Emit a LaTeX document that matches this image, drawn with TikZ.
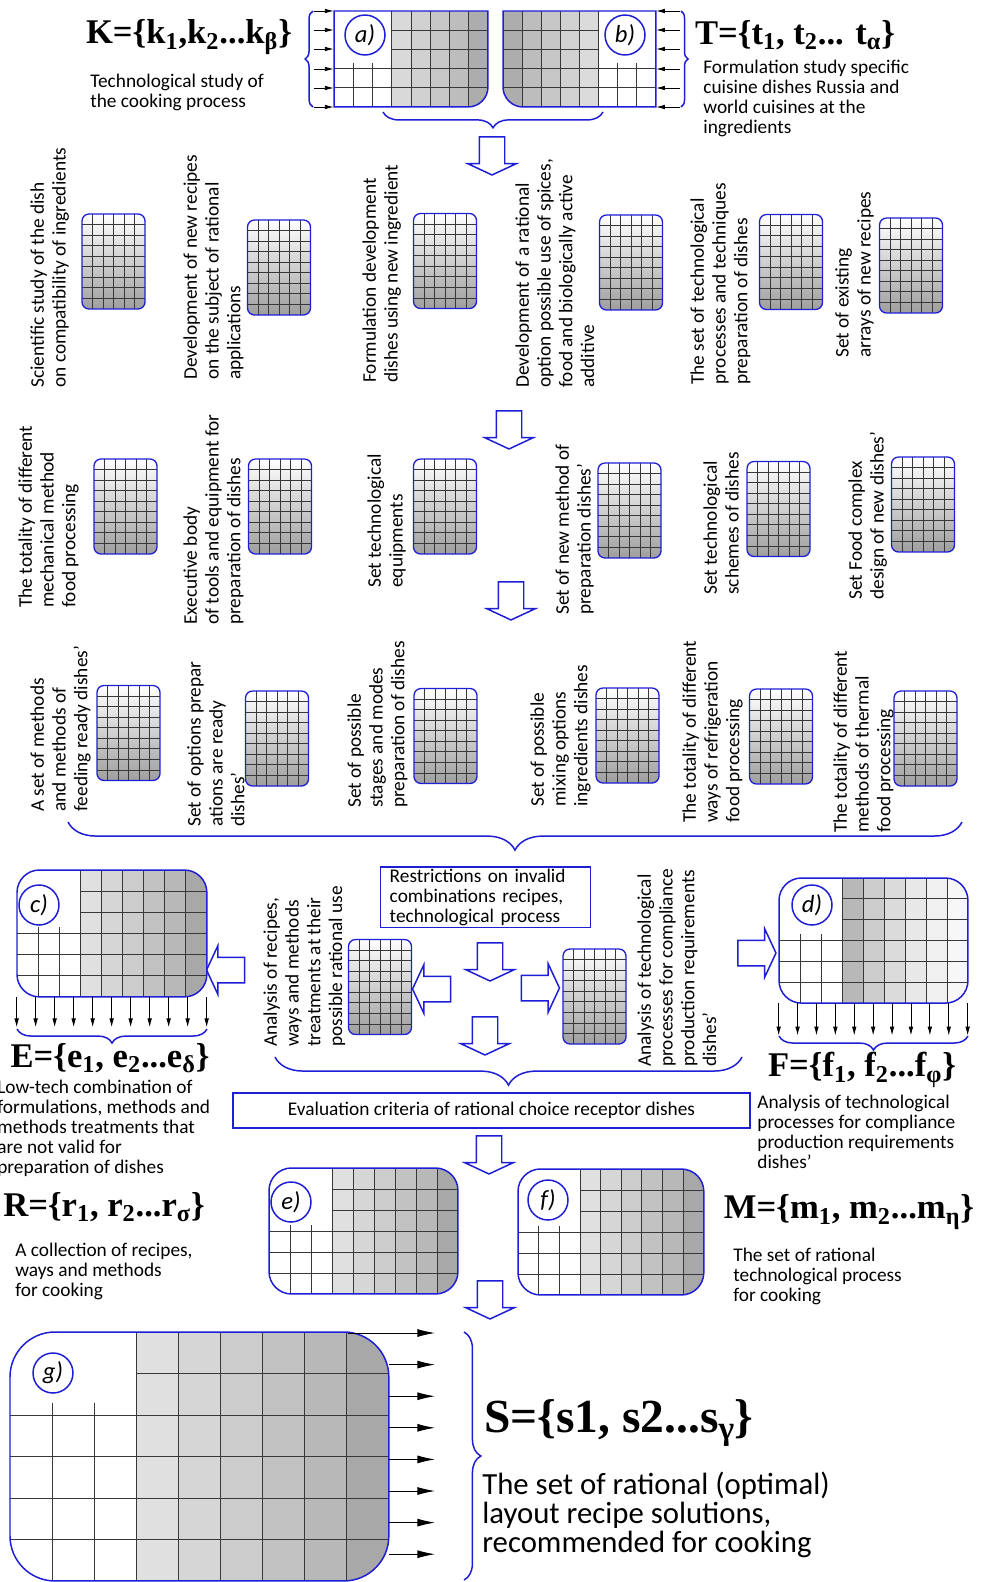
\documentclass[tikz,border=0pt]{standalone}
\usepackage{fontspec}
\setmainfont{Carlito}
\newfontfamily\setfont{Liberation Serif}
\usetikzlibrary{arrows.meta,shapes.arrows,decorations.pathreplacing,calc,fit}

\definecolor{lineblue}{RGB}{30,30,215}

\tikzset{
  frame/.style={draw=lineblue, line width=0.85pt},
  gridline/.style={draw=black!78, line width=0.45pt},
  body/.style={font=\fontsize{11}{11.3}\selectfont},
  txt/.style={inner sep=0, anchor=north west, align=left, body},
  vtxt/.style={inner sep=0, anchor=north west, align=left, rotate=90,
               font=\fontsize{11}{12.4}\selectfont},
  setname/.style={inner sep=0, font=\setfont\bfseries\fontsize{19.7}{22}\selectfont},
  lbl/.style={circle, frame, fill=white, minimum size=0.8cm, inner sep=0,
              font=\itshape\fontsize{14}{14}\selectfont},
  tile/.style={frame, line width=0.75pt, rounded corners=4pt, inner sep=0,
               minimum width=1.26cm, minimum height=1.9cm,
               top color=white, bottom color=black!38,
               path picture={
                 \foreach \i in {1,...,5}
                   \draw[gridline] ($(path picture bounding box.south west)!{\i/6}!(path picture bounding box.south east)$) -- ++(0,2cm);
                 \foreach \j in {1,...,8}
                   \draw[gridline] ($(path picture bounding box.south west)!{\j/9}!(path picture bounding box.north west)$) -- ++(2cm,0);
               }},
  blockarr/.style={single arrow, frame, fill=white, inner sep=0.24cm,
                   minimum height=0.76cm,
                   single arrow head extend=0.23cm, single arrow tip angle=130},
  brace/.style={frame, decorate, decoration={brace, amplitude=#1}},
  tick/.style={-{Latex[length=5pt, width=2.6pt]}, line width=0.45pt},
  outarr/.style={-{Latex[length=10pt, width=4.5pt]}, line width=0.5pt},
  txtbox/.style={frame, inner sep=0, body}
}

% grid panel: name, top-left, cols, rows, cell w, cell h, free rows, greys, outline
\newcommand\gridpanel[9]{%
  \begin{scope}[shift={#2}, x=#5, y=-#6]
    \begin{scope}
      \clip #9;
      \fill[white] (0,0) rectangle (#3,#4);
      \pgfmathtruncatemacro\jend{#4-1}
      \foreach \g [count=\i, remember=\g as \gp (initially 0)] in {#8}{
        \ifnum\g>0 \fill[black!\g] (\i-1,0) rectangle (\i,#4);\fi
        \pgfmathtruncatemacro\jstart{\g==0 ? #7+1 : 1}
        \foreach \j in {\jstart,...,\jend}
          \draw[gridline] (\i-1,\j) -- (\i,\j);
        \ifnum\i>1
          \pgfmathsetmacro\ystart{(\g==0 && \gp==0) ? #7+0.7 : 0}
          \draw[gridline] (\i-1,\ystart) -- (\i-1,#4);
        \fi
      }
    \end{scope}
    \draw[frame] #9;
    \node[fit={(0,0) (#3,#4)}, inner sep=0] (#1) {};
  \end{scope}}

\begin{document}
\begin{tikzpicture}[x=0.02cm, y=-0.02cm]
  \fill[white] (0,0) rectangle (981,1582);
  \useasboundingbox (0,0) rectangle (981,1582);

  % input matrices a) and b)
  \gridpanel{pa}{(334,11)}{8}{5}{0.385cm}{0.384cm}{2}{0,0,0,15,18,22,26,32}
    {(0,0) -- (8,0) -- ([yshift=0.4cm]8,5) arc[start angle=0, end angle=-90, radius=0.4cm] -- (0,5) -- cycle}
  \gridpanel{pb}{(503,11)}{8}{5}{0.382cm}{0.384cm}{2}{32,26,22,18,14,0,0,0}
    {(0,0) -- (8,0) -- (8,5) -- ([xshift=0.4cm]0,5) arc[start angle=-90, end angle=-180, radius=0.4cm] -- cycle}
  \node[lbl] (la) at (365,35) {a)};
  \node[lbl] (lb) at (625,35) {b)};
  \draw[brace=4.5pt] (313,107) -- (313,11);
  \draw[brace=4pt] (681,11) -- (681,107);
  \foreach \y in {11,30,49,69,88,107}{
    \draw[tick] (314,\y) -- (pa.west |- 0,\y);
    \draw[tick] (680,\y) -- (pb.east |- 0,\y);
  }
  \draw[brace=9pt] (603,112) -- (383,112);

  \node[setname] (kset) at (189,37) {K=\{k\textsubscript{1},k\textsubscript{2}...k\textsubscript{β}\}};
  \node[txt] (kdesc) at (90,74) {Technological study of\\the cooking process};
  \node[setname] (tset) at (795,35) {T=\{t\textsubscript{1}, t\textsubscript{2}... t\textsubscript{α}\}};
  \node[txt] (tdesc) at (703,60) {Formulation study specific\\cuisine dishes Russia and\\world cuisines at the\\ingredients};

  \node[blockarr, shape border rotate=270] (ar1) at (492,153) {};

  % first row
  \node[vtxt] (v11) at (30,388) {Scientific study of the dish\\on compatibility of ingredients};
  \node[tile] (t11) at (113.5,261.5) {};
  \node[vtxt] (v12) at (183,380) {Development of new recipes\\on the subject of rational\\applications};
  \node[tile] (t12) at (279,267.5) {};
  \node[vtxt] (v13) at (362,383) {Formulation development\\dishes using new ingredient};
  \node[tile] (t13) at (445,261) {};
  \node[vtxt] (v14) at (515,388) {Development of a rational\\option possible use of spices,\\food and biologically active\\additive};
  \node[tile] (t14) at (631,262.5) {};
  \node[vtxt] (v15) at (690,385) {The set of technological\\processes and techniques\\preparation of dishes};
  \node[tile] (t15) at (791,262) {};
  \node[vtxt] (v16) at (835,358) {Set of existing\\arrays of new recipes};
  \node[tile] (t16) at (911,265.5) {};

  \node[blockarr, shape border rotate=270] (ar2) at (509,427) {};

  % second row
  \node[vtxt] (v21) at (18,608) {The totality of different\\mechanical method\\food processing};
  \node[tile] (t21) at (125.5,506.5) {};
  \node[vtxt] (v22) at (183,625) {Executive body\\of tools and equipment for\\preparation of dishes};
  \node[tile] (t22) at (280,506.5) {};
  \node[vtxt] (v23) at (367,588) {Set technological\\equipments};
  \node[tile] (t23) at (445,506.5) {};
  \node[vtxt] (v24) at (555,615) {Set of new method of\\preparation dishes'};
  \node[tile] (t24) at (629.5,510.5) {};
  \node[vtxt] (v25) at (703,595) {Set technological\\schemes of dishes};
  \node[tile] (t25) at (778.5,509) {};
  \node[vtxt] (v26) at (848,600) {Set Food complex\\design of new dishes'};
  \node[tile] (t26) at (923,504.5) {};

  \node[blockarr, shape border rotate=270] (ar3) at (511,598) {};

  % third row
  \node[vtxt] (v31) at (30,812) {A set of methods\\and methods of\\feeding ready dishes'};
  \node[tile] (t31) at (128.5,733) {};
  \node[vtxt] (v32) at (187,827) {Set of options prepar\\ations are ready\\dishes'};
  \node[tile] (t32) at (277,738.5) {};
  \node[vtxt] (v33) at (347,808) {Set of possible\\stages and modes\\preparation of dishes};
  \node[tile] (t33) at (445.5,736) {};
  \node[vtxt] (v34) at (530,807) {Set of possible\\mixing options\\ingredients dishes};
  \node[tile] (t34) at (627.5,735.5) {};
  \node[vtxt] (v35) at (682,823) {The totality of different\\ways of refrigeration\\food processing};
  \node[tile] (t35) at (781,736.5) {};
  \node[vtxt] (v36) at (833,833) {The totality of different\\methods of thermal\\food processing};
  \node[tile] (t36) at (925.5,738.5) {};

  \draw[brace=16pt] (962,822) -- (68,822);

  % analysis block
  \node[txtbox, anchor=north west, minimum width=4.2cm, minimum height=1.22cm,
        text width=3.84cm, align=left, inner xsep=0.18cm] (restr) at (380,866)
        {Restrictions on invalid\\combinations recipes,\\technological process};
  \node[blockarr, shape border rotate=270] (ar4) at (490,959) {};
  \node[blockarr, shape border rotate=270] (ar5) at (485,1033) {};
  \node[tile] (tl) at (380,987) {};
  \node[tile] (tr) at (594.5,996.5) {};
  \node[blockarr, shape border rotate=180] (ar7) at (434.5,989) {};
  \node[blockarr] (ar8) at (537.5,988) {};
  \node[vtxt] (vl) at (263,1047) {Analysis of recipes,\\ways and methods\\treatments at their\\possible rational use};
  \node[vtxt] (vr) at (637,1067) {Analysis of technological\\processes for compliance\\production requirements\\dishes'};
  \node[blockarr, shape border rotate=180] (ar6) at (228.5,970) {};
  \node[blockarr] (ar9) at (754,953) {};

  % matrices c) and d)
  \gridpanel{pc}{(17,870)}{9}{6}{0.422cm}{0.423cm}{2}{0,0,0,12,16,20,24,28,34}
    {[rounded corners=0.45cm] (0,0) rectangle (9,6)}
  \gridpanel{pd}{(779,878)}{9}{6}{0.42cm}{0.417cm}{2}{0,0,0,28,20,14,9,6,3}
    {[rounded corners=0.45cm] (0,0) rectangle (9,6)}
  \node[lbl] (lc) at (39,905) {c)};
  \node[lbl] (ld) at (812,905) {d)};
  \foreach \k in {0,...,10}{
    \draw[tick] ($(pc.south west)+(19*\k,0)$) -- ++(0,30);
    \draw[tick] ($(pd.south west)+(18.9*\k,0)$) -- ++(0,32);
  }
  \draw[brace=8pt] (207,1029) -- (17,1029);
  \draw[brace=8pt] (968,1036) -- (779,1036);
  \draw[brace=16pt] (742,1057) -- (275,1057);

  \node[setname] (eset) at (110,1058) {E=\{e\textsubscript{1}, e\textsubscript{2}...e\textsubscript{δ}\}};
  \node[txt] (edesc) at (-3,1080) {Low-tech combination of\\formulations, methods and\\methods treatments that\\are not valid for\\preparation of dishes};
  \node[setname] (fset) at (862,1070) {F=\{f\textsubscript{1}, f\textsubscript{2}...f\textsubscript{φ}\}};
  \node[txt] (fdesc) at (757,1095) {Analysis of technological\\processes for compliance\\production requirements\\dishes'};

  \node[txtbox, minimum width=10.34cm, minimum height=0.7cm] (evalbox) at (491.5,1110.5)
        {Evaluation criteria of rational choice receptor dishes};
  \node[blockarr, shape border rotate=270] (ar10) at (489,1152) {};

  % matrices e) and f)
  \gridpanel{pe}{(269,1168)}{9}{6}{0.42cm}{0.42cm}{2}{0,0,0,12,16,20,24,28,34}
    {[rounded corners=0.45cm] (0,0) rectangle (9,6)}
  \gridpanel{pf}{(518,1169)}{9}{6}{0.413cm}{0.42cm}{2}{0,0,0,12,16,20,24,28,34}
    {[rounded corners=0.45cm] (0,0) rectangle (9,6)}
  \node[lbl] (le) at (291,1202) {e)};
  \node[lbl] (lf) at (548,1200) {f)};
  \node[setname] (rset) at (104,1207) {R=\{r\textsubscript{1}, r\textsubscript{2}...r\textsubscript{σ}\}};
  \node[txt] (rdesc) at (15,1243) {A collection of recipes,\\ways and methods\\for cooking};
  \node[setname] (mset) at (849,1212) {M=\{m\textsubscript{1}, m\textsubscript{2}...m\textsubscript{η}\}};
  \node[txt] (mdesc) at (733,1248) {The set of rational\\technological process\\for cooking};
  \node[blockarr, shape border rotate=270] (ar11) at (490,1297) {};

  % result matrix g)
  \gridpanel{pg}{(10,1332)}{9}{6}{0.842cm}{0.83cm}{1}{0,0,0,12,16,20,24,28,34}
    {[rounded corners=0.9cm] (0,0) rectangle (9,6)}
  \node[lbl] (lg) at (53,1373) {g)};
  \draw[outarr] (348,1333) -- (435,1333);
  \foreach \k in {1,...,7}
    \draw[outarr] (pg.east |- 0,1333+31.6*\k) -- (435,1333+31.6*\k);
  \draw[brace=9.6pt] (464,1332) -- (464,1580);
  \node[setname, font=\setfont\bfseries\fontsize{27}{30}\selectfont] (sset) at (619,1423)
        {S=\{s1, s2...s\textsubscript{γ}\}};
  \node[txt, font=\fontsize{17.5}{16.3}\selectfont] (sdesc) at (482,1472)
        {The set of rational (optimal)\\layout recipe solutions,\\recommended for cooking};
\end{tikzpicture}
\end{document}
